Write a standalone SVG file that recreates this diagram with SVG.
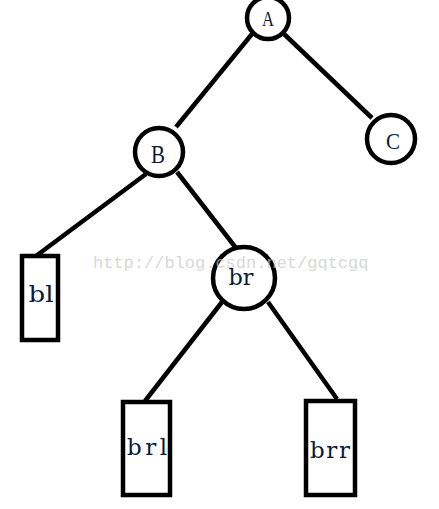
<svg xmlns="http://www.w3.org/2000/svg" width="439" height="509" viewBox="0 0 439 509">
<style>
.n{fill:#fff;stroke:#000;stroke-width:4.5}
.e{stroke:#000;stroke-width:4.5;fill:none}
.t{font-family:"DejaVu Serif",serif;fill:#0a1a3a;text-anchor:middle}
.u{font-family:"Liberation Serif",serif;fill:#0a1a3a;text-anchor:middle}
.w{font-family:"Liberation Mono",monospace;font-size:17px;fill:#c8c8c8;opacity:0.7}
</style>
<rect width="439" height="509" fill="#fff"/>
<g id="connectors">
<line class="e" x1="252" y1="34" x2="176" y2="127"/>
<line class="e" x1="283" y1="33" x2="372" y2="118"/>
<line class="e" x1="146" y1="174" x2="36" y2="256"/>
<line class="e" x1="177" y1="172" x2="236" y2="248"/>
<line class="e" x1="222" y1="302" x2="145" y2="401"/>
<line class="e" x1="268" y1="302" x2="337" y2="399"/>
</g>
<g id="A"><circle class="n" cx="268" cy="18" r="21"/><text class="u" x="268" y="26" font-size="22" textLength="12" lengthAdjust="spacingAndGlyphs">A</text></g>
<g id="C"><circle class="n" cx="391" cy="139" r="24"/><text class="u" x="393" y="149" font-size="23" textLength="14" lengthAdjust="spacingAndGlyphs">C</text></g>
<g id="B"><circle class="n" cx="159" cy="152" r="24"/><text class="u" x="158" y="163" font-size="25" textLength="14" lengthAdjust="spacingAndGlyphs">B</text></g>
<g id="bl"><rect class="n" x="22" y="256" width="36" height="84"/><text class="t" x="41" y="302" font-size="23" textLength="25" lengthAdjust="spacingAndGlyphs">bl</text></g>
<g id="br"><circle class="n" cx="244" cy="278" r="31"/><text class="t" x="241" y="285" font-size="22" textLength="25" lengthAdjust="spacingAndGlyphs">br</text></g>
<g id="brl"><rect class="n" x="123" y="402" width="47" height="93"/><text class="t" x="147" y="455" font-size="23" textLength="40" lengthAdjust="spacing">brl</text></g>
<g id="brr"><rect class="n" x="306" y="401" width="49" height="94"/><text class="t" x="330" y="458" font-size="23" textLength="40" lengthAdjust="spacing">brr</text></g>
<text class="w" x="93" y="268">http://blog.csdn.net/gqtcgq</text>
</svg>
